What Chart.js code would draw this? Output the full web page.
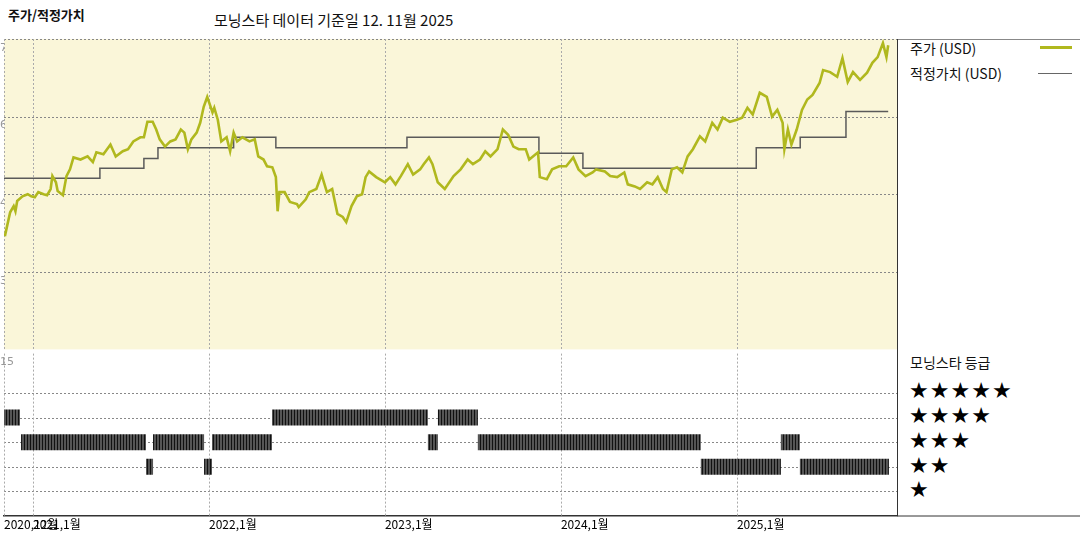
<!DOCTYPE html>
<html><head><meta charset="utf-8">
<script src="https://cdn.jsdelivr.net/npm/chart.js@4/dist/chart.umd.min.js"></script>
<style>
body{margin:0;width:1080px;height:540px;background:#fff;position:relative;overflow:hidden;font-family:"Noto Sans CJK KR","Noto Sans",sans-serif;}
canvas{position:absolute;left:0;}
.t{position:absolute;white-space:nowrap;color:#111;}
.star{position:absolute;left:909px;font-size:22px;line-height:22px;letter-spacing:1px;color:#000;font-family:"DejaVu Sans";}
</style></head><body>
<div class="t" style="left:8px;top:5px;font-size:13px;font-weight:bold;">주가/적정가치</div>
<div class="t" style="left:214px;top:9px;font-size:15px;">모닝스타 데이터 기준일 12. 11월 2025</div>
<div class="t" style="left:910px;top:38px;font-size:14px;">주가 (USD)</div>
<div class="t" style="left:910px;top:63px;font-size:14px;">적정가치 (USD)</div>
<div style="position:absolute;left:1040px;top:46px;width:32px;height:3px;background:#b0b81e"></div>
<div style="position:absolute;left:1038px;top:73px;width:34px;height:1px;background:#666"></div>
<div class="t" style="left:910px;top:352px;font-size:14px;">모닝스타 등급</div>
<div class="star" style="top:380px">★★★★★</div>
<div class="star" style="top:405px">★★★★</div>
<div class="star" style="top:430px">★★★</div>
<div class="star" style="top:455px">★★</div>
<div class="star" style="top:479px">★</div>
<canvas id="c1" style="top:0" width="1080" height="352"></canvas>
<canvas id="c2" style="top:351px" width="1080" height="189"></canvas>
<script>
const priceDates=[2020.84,2020.87,2020.89,2020.90,2020.91,2020.94,2020.97,2020.99,2021.01,2021.03,2021.06,2021.08,2021.10,2021.11,2021.13,2021.14,2021.17,2021.19,2021.21,2021.23,2021.27,2021.31,2021.34,2021.36,2021.40,2021.44,2021.47,2021.51,2021.54,2021.57,2021.61,2021.63,2021.65,2021.68,2021.70,2021.72,2021.75,2021.78,2021.81,2021.84,2021.86,2021.88,2021.90,2021.93,2021.95,2021.97,2021.99,2022.02,2022.03,2022.05,2022.07,2022.10,2022.12,2022.14,2022.16,2022.19,2022.23,2022.26,2022.28,2022.31,2022.33,2022.36,2022.38,2022.39,2022.40,2022.43,2022.46,2022.50,2022.51,2022.55,2022.57,2022.61,2022.64,2022.67,2022.70,2022.73,2022.76,2022.78,2022.81,2022.84,2022.87,2022.89,2022.91,2022.95,2023.00,2023.03,2023.06,2023.09,2023.13,2023.16,2023.20,2023.22,2023.25,2023.27,2023.30,2023.34,2023.39,2023.43,2023.47,2023.50,2023.54,2023.57,2023.60,2023.64,2023.67,2023.70,2023.73,2023.76,2023.80,2023.82,2023.87,2023.88,2023.92,2023.95,2023.99,2024.03,2024.07,2024.10,2024.14,2024.18,2024.20,2024.25,2024.28,2024.32,2024.36,2024.38,2024.42,2024.45,2024.49,2024.52,2024.55,2024.58,2024.60,2024.63,2024.66,2024.69,2024.72,2024.75,2024.79,2024.82,2024.86,2024.89,2024.92,2024.96,2025.00,2025.03,2025.06,2025.09,2025.13,2025.17,2025.20,2025.23,2025.26,2025.27,2025.29,2025.31,2025.34,2025.37,2025.40,2025.43,2025.47,2025.49,2025.53,2025.57,2025.60,2025.63,2025.66,2025.70,2025.74,2025.77,2025.80,2025.83,2025.85,2025.86];
const priceValues=[36.9,41.5,42.7,41.7,43.7,44.6,45.0,44.6,44.4,45.4,45.0,44.8,46.0,48.5,47.3,45.6,44.8,48.5,49.8,52.1,51.7,52.3,51.2,53.1,52.7,54.6,52.3,53.3,53.7,55.2,56.0,56.0,59.0,59.0,57.5,55.6,54.2,55.2,55.6,57.5,56.9,53.7,55.6,56.9,58.8,61.9,63.8,60.8,61.7,59.4,55.2,56.0,53.3,56.9,55.2,56.0,55.2,55.6,52.3,51.7,50.4,50.2,48.3,41.7,45.4,45.4,43.5,43.1,42.5,44.0,45.4,46.0,48.8,45.4,46.0,41.2,40.6,39.6,42.7,44.6,45.0,48.3,49.4,48.3,47.3,48.3,46.9,48.5,50.8,48.8,49.8,50.8,52.1,50.8,47.3,46.0,48.5,49.8,51.7,50.8,51.7,53.3,52.3,53.7,57.5,56.5,54.2,53.7,53.7,51.7,53.1,48.3,47.9,49.8,50.4,50.4,52.1,49.8,48.5,49.2,49.8,49.4,48.5,48.3,49.2,46.9,46.5,46.0,47.3,46.9,48.3,46.0,45.4,49.8,50.2,49.2,52.3,53.7,56.2,55.2,58.8,57.5,59.8,59.0,59.4,59.8,61.7,60.4,64.6,63.8,60.0,61.3,58.8,53.7,57.5,54.6,57.5,61.3,63.3,64.2,66.5,69.0,68.6,67.7,71.3,66.7,68.6,67.1,68.5,70.4,71.5,74.2,71.5,73.8];
const fairDates=[2020.835,2021.38,2021.63,2021.71,2022.14,2022.38,2023.125,2023.875,2024.125,2025.11,2025.36,2025.62,2025.86];
const fairValues=[48.1,50.0,51.9,54.0,56.0,54.0,56.0,52.9,50.0,54.0,56.0,61.0,61.0];
const ratingStart=[2020.835,2020.932,2021.642,2021.682,2021.972,2022.017,2022.358,2023.244,2023.301,2023.528,2024.795,2025.25,2025.358];
const ratingEnd=[2020.926,2021.642,2021.682,2021.972,2022.017,2022.358,2023.244,2023.301,2023.528,2024.795,2025.25,2025.358,2025.864];
const ratingStars=[4,3,2,3,2,3,4,3,4,3,2,3,2];
const yearTicks=[2021,2022,2023,2024,2025];
const priceTicks=[15,30,45,60,75];
const ratingGrid=[1,2,3,4,5];
const xLabels={2020.835:'2020,12월',2021:'2021,1월',2022:'2022,1월',2023:'2023,1월',2024:'2024,1월',2025:'2025,1월'};

const XMIN=2020.835, XMAX=2025.91;
function dashedGrid(bg,yVals){return {id:'dgrid',beforeDatasetsDraw(c){const a=c.chartArea,x=c.ctx,sx=c.scales.x,sy=c.scales.y;x.save();
  if(bg){x.fillStyle=bg;x.fillRect(a.left,a.top,a.width,a.height);}
  x.setLineDash([2,2]);x.lineWidth=1;
  x.strokeStyle='#888';
  yVals.forEach(v=>{const p=Math.round(sy.getPixelForValue(v))+0.5;x.beginPath();x.moveTo(a.left,p);x.lineTo(a.right,p);x.stroke();});
  x.strokeStyle='#aaa';
  [XMIN].concat(yearTicks).forEach(v=>{const p=Math.round(sx.getPixelForValue(v))+0.5;x.beginPath();x.moveTo(p,a.top);x.lineTo(p,a.bottom);x.stroke();});
  x.restore();}};}

const c1=new Chart(document.getElementById('c1'),{
 type:'line',
 data:{datasets:[
  {data:priceDates.map((d,i)=>({x:d,y:priceValues[i]})),borderColor:'#b0b81e',borderWidth:2.6,pointRadius:0,tension:0},
  {data:fairDates.map((d,i)=>({x:d,y:fairValues[i]})),borderColor:'#5a5a5a',borderWidth:1.5,pointRadius:0,stepped:'before'}
 ]},
 options:{animation:false,responsive:false,events:[],
  layout:{padding:{left:4,right:183,top:39,bottom:0}},
  plugins:{legend:{display:false},tooltip:{enabled:false}},
  scales:{
   x:{type:'linear',min:XMIN,max:XMAX,ticks:{display:false},grid:{display:false},border:{display:false},afterFit:s=>{s.height=0;}},
   y:{min:15,max:75,afterBuildTicks:s=>{s.ticks=priceTicks.map(v=>({value:v}));},
      ticks:{mirror:true,padding:-4,labelOffset:9,color:'#999',font:{size:11,family:'DejaVu Sans'},callback:v=>v===15?'':String(v)},
      grid:{display:false},border:{display:false},afterFit:s=>{s.width=0;}}
  }},
 plugins:[dashedGrid('#faf6d9',[30,45,60,75]),{id:'edge',afterDraw(c){const a=c.chartArea,x=c.ctx;x.save();
  x.strokeStyle='#888';x.lineWidth=1;x.beginPath();x.moveTo(a.right,39.5);x.lineTo(1080,39.5);x.stroke();
  x.strokeStyle='#333';x.beginPath();x.moveTo(897.5,39);x.lineTo(897.5,352);x.stroke();x.restore();}}]
});

const pc=document.createElement('canvas');pc.width=3;pc.height=2;const pctx=pc.getContext('2d');
pctx.fillStyle='#555';pctx.fillRect(0,0,3,2);pctx.fillStyle='#111';pctx.fillRect(0,0,1,2);
const stripe=document.getElementById('c2').getContext('2d').createPattern(pc,'repeat');

const rDatasets=[4,3,2].map(level=>{const pts=[];ratingStars.forEach((s,i)=>{if(s===level){pts.push({x:ratingStart[i],y:s},{x:ratingEnd[i],y:s},{x:ratingEnd[i],y:null});}});
 return {data:pts,borderColor:stripe,borderWidth:16,borderCapStyle:'butt',pointRadius:0,spanGaps:false};});

const c2=new Chart(document.getElementById('c2'),{
 type:'line',
 data:{datasets:rDatasets},
 options:{animation:false,responsive:false,events:[],
  layout:{padding:{left:4,right:183,top:0,bottom:0}},
  plugins:{legend:{display:false},tooltip:{enabled:false}},
  scales:{
   x:{type:'linear',min:XMIN,max:XMAX,afterBuildTicks:s=>{s.ticks=[XMIN].concat(yearTicks).map(v=>({value:v}));},
      ticks:{align:'start',maxRotation:0,autoSkip:false,padding:1,color:'#000',font:{size:12,family:'"Noto Sans CJK KR"'},callback:v=>xLabels[v]||''},
      grid:{display:false,drawTicks:false},border:{color:'#333',width:1.5},afterFit:s=>{s.height=24;}},
   y:{min:0,max:6.6,afterBuildTicks:s=>{s.ticks=[6.6].map(v=>({value:v}));},
      ticks:{mirror:true,padding:-4,labelOffset:9,color:'#999',font:{size:11,family:'DejaVu Sans'},callback:v=>'15'},
      grid:{display:false},border:{display:false},afterFit:s=>{s.width=0;}}
  }},
 plugins:[dashedGrid(null,ratingGrid),{id:'edge2',afterDraw(c){const a=c.chartArea,x=c.ctx;x.save();
  x.strokeStyle='#333';x.lineWidth=1;x.beginPath();x.moveTo(897.5,0);x.lineTo(897.5,a.bottom);x.lineTo(1080,a.bottom);x.stroke();x.restore();}}]
});
</script>
</body></html>
